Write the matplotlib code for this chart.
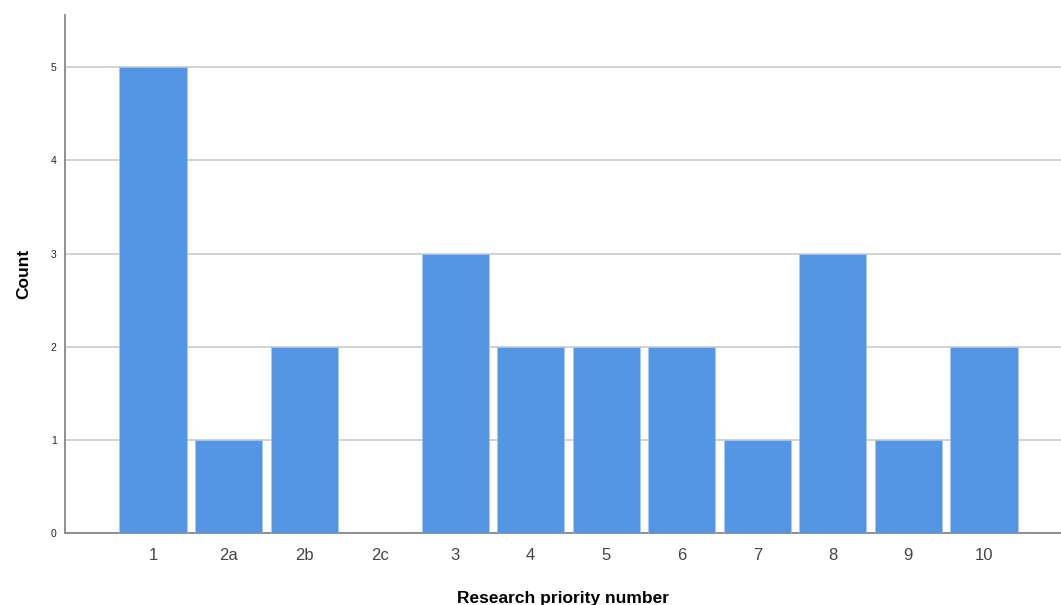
import matplotlib
matplotlib.use("Agg")
import matplotlib.pyplot as plt

categories = ["1", "2a", "2b", "2c", "3", "4", "5", "6", "7", "8", "9", "10"]
counts = [5, 1, 2, 0, 3, 2, 2, 2, 1, 3, 1, 2]
y_ticks = [0, 1, 2, 3, 4, 5]

plt.rcParams['font.family'] = ['Liberation Sans', 'DejaVu Sans']

fig = plt.figure(figsize=(10.61, 6.05), dpi=100)
ax = fig.add_axes([65/1061, (605-533)/605, 1 - 65/1061, (533-15)/605])

x = list(range(len(categories)))
ax.bar(x, counts, width=0.89, color="#5495E4", edgecolor="#A9C9F0", linewidth=0.5, zorder=3)

ax.set_xlim(-1.166, 12.02)
ax.set_ylim(0, 5.56)
ax.set_yticks(y_ticks)
ax.set_yticklabels([str(t) for t in y_ticks], fontsize=7.5, color="#222222")
ax.set_xticks(x)
ax.set_xticklabels(categories, fontsize=12, color="#444444")
ax.tick_params(axis='both', length=0)
ax.tick_params(axis='x', pad=11)
ax.tick_params(axis='y', pad=6)

ax.grid(axis='y', color="#CFCFCF", linewidth=1.3, zorder=0)
for s in ["top", "right"]:
    ax.spines[s].set_visible(False)
ax.spines["left"].set_color("#888888")
ax.spines["bottom"].set_color("#888888")
ax.spines["left"].set_linewidth(1.3)
ax.spines["bottom"].set_linewidth(1.3)

ax.set_ylabel("Count", fontsize=12.5, fontweight="bold", labelpad=14)
ax.set_xlabel("Research priority number", fontsize=12.5, fontweight="bold", labelpad=20)

fig.savefig("out.png", dpi=100)
